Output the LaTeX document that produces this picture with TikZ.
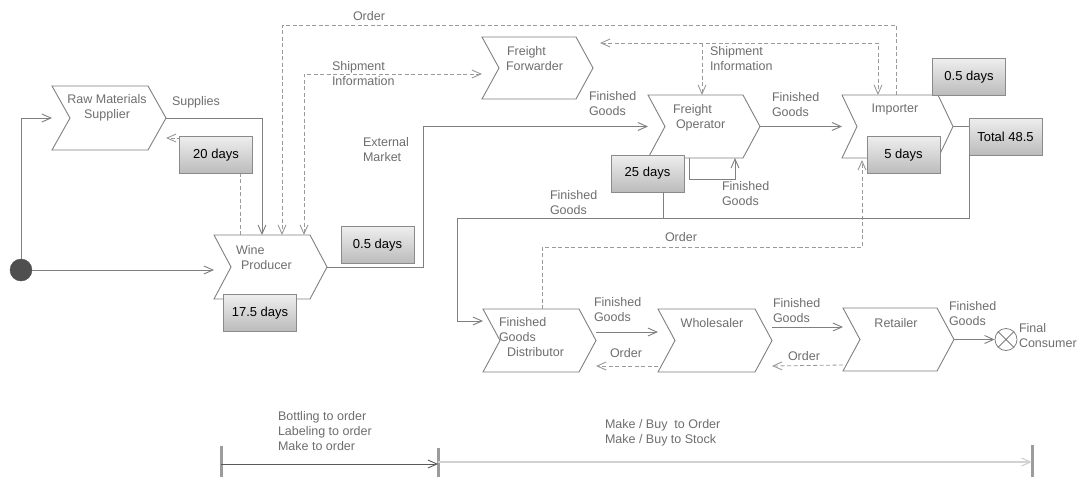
\documentclass[tikz,border=0pt]{standalone}
\usepackage{fontspec}
\setmainfont{Liberation Sans}
\usetikzlibrary{arrows.meta,fit,calc}

\definecolor{edgegray}{HTML}{808080}
\definecolor{dashgray}{HTML}{9A9A9A}
\definecolor{txtgray}{HTML}{6E6E6E}
\definecolor{boxedge}{HTML}{8A8A8A}
\definecolor{boxtop}{HTML}{EEEEEE}
\definecolor{boxbot}{HTML}{BBBBBB}
\definecolor{startfill}{HTML}{4F4F4F}
\definecolor{tickgray}{HTML}{9C9C9C}
\definecolor{darkflow}{HTML}{5A5A5A}
\definecolor{lightflow}{HTML}{D2D2D2}

% chevron-shaped process step: [depth]{name}{left}{top}{right}{bottom}
\newcommand\chev[6][17]{%
  \node[chevbox, fit={(#3,#4) (#5,#6)}] (#2) {};
  \draw[chevline] (#2.north west) -- ([xshift=-#1pt]#2.north east) -- (#2.east)
    -- ([xshift=-#1pt]#2.south east) -- (#2.south west) -- ([xshift=#1pt]#2.west) -- cycle;}

\begin{document}
\begin{tikzpicture}[x=1pt,y=-1pt,
  every node/.style={font=\fontsize{12.5}{15}\selectfont},
  chevbox/.style={inner sep=0pt, outer sep=0pt},
  chevline/.style={draw=edgegray, line width=0.9pt, fill=white, line join=miter},
  nametext/.style={text=txtgray, inner sep=0pt, outer sep=0pt},
  lbl/.style={text=txtgray, align=left, anchor=west, inner sep=0pt, outer sep=0pt},
  tipv/.tip={Straight Barb[length=9pt,width=8pt,line width=0.9pt]},
  flow/.style={draw=edgegray, line width=0.9pt, -tipv},
  plain/.style={draw=edgegray, line width=0.9pt},
  info/.style={draw=dashgray, line width=0.8pt, dash pattern=on 4pt off 2.5pt, -tipv},
  infoboth/.style={draw=dashgray, line width=0.8pt, dash pattern=on 4pt off 2.5pt, tipv-tipv},
  daybox/.style={draw=boxedge, line width=0.8pt, top color=boxtop, bottom color=boxbot,
    minimum width=73pt, minimum height=37pt, inner sep=0pt, outer sep=0pt,
    font=\fontsize{13}{15}\selectfont, text=black},
  tick/.style={draw=tickgray, line width=3pt},
]
\useasboundingbox (0,0) rectangle (1083,477);
\fill[white] (0,0) rectangle (1083,477);

% ---------- connector anchor points ----------
\coordinate (wineSup)   at (262,235);
\coordinate (wineOrd)   at (240,235);
\coordinate (rawOrd)    at (166,138);
\coordinate (impOrd)    at (896,95);
\coordinate (orderTop)  at (282,25);
\coordinate (wineOrd2)  at (282,235);
\coordinate (wineShip)  at (304,235);
\coordinate (ffwdShip)  at (482,74);
\coordinate (extBend)   at (423,267);
\coordinate (ffwdRet)   at (600,43);
\coordinate (impShip)   at (878,95);
\coordinate (shipSplit) at (702,43);
\coordinate (fopShip)   at (702,95);
\coordinate (loopA)     at (689,158);
\coordinate (loopB)     at (735,158);
\coordinate (fgJoin)    at (663,218);
\coordinate (fgCorner)  at (457,218);
\coordinate (fgdIn)     at (483,321);
\coordinate (fgdOrd)    at (542,309);
\coordinate (impOrdIn)  at (862,160);

% ---------- process steps ----------
\chev[18]{rawsup}{52}{86}{166}{150}
\chev{wine}{214}{235}{327}{299}
\chev{ffwd}{482}{37}{593}{99}
\chev{fop}{648}{95}{760}{158}
\chev[15]{imp}{842}{95}{953}{158}
\chev{fgd}{483}{309}{596}{372}
\chev{whole}{658}{309}{772}{372}
\chev{retail}{843}{308}{954}{371}

\node[nametext, align=center] (rawsup-t) at (107,108) {Raw Materials\\Supplier};
\node[nametext, align=left, anchor=west] (wine-t) at (236,257.5) {Wine\\\hspace*{5pt}Producer};
\node[nametext, align=left, anchor=west] (ffwd-t) at (506,58.5) {\hspace*{1pt}Freight\\Forwarder};
\node[nametext, align=left, anchor=west] (fop-t) at (673,117.5) {Freight\\\hspace*{3pt}Operator};
\node[nametext] (imp-t) at (895,109) {Importer};
\node[nametext, align=left, anchor=west] (fgd-t) at (499,337) {Finished\\Goods\\\hspace*{8pt}Distributor};
\node[nametext] (whole-t) at (712,323) {Wholesaler};
\node[nametext] (retail-t) at (896,323) {Retailer};

% ---------- start and end points ----------
\node[circle, fill=startfill, draw=startfill, minimum size=22pt, inner sep=0pt] (start) at (21,270) {};
\node[circle, draw=edgegray, line width=0.8pt, minimum size=22pt, inner sep=0pt] (cons) at (1006,339.5) {};
\draw[edgegray, line width=0.8pt] (cons.north east) -- (cons.south west)
  (cons.north west) -- (cons.south east);

% ---------- information flows (dashed) ----------
\draw[info] (wineOrd) |- (rawOrd);
\draw[info] (impOrd) |- (orderTop) -- (wineOrd2);
\draw[infoboth] (wineShip) |- (ffwdShip);
\draw[infoboth] (ffwdRet) -| (impShip);
\draw[info] (shipSplit) -- (fopShip);
\draw[info] (fgdOrd) -- ++(0,-62) -| (impOrdIn);
\draw[info] ([yshift=-25.5pt]whole.west) -- ([yshift=-25.5pt]fgd.east);
\draw[info] ([yshift=-25.5pt]retail.west) -- ([yshift=-25.5pt]whole.east);

% ---------- material flows ----------
\draw[flow] (start) |- (rawsup.west);
\draw[flow] (start) -- (start -| wine.west);
\draw[flow] (rawsup.east) -| (wineSup);
\draw[flow] (wine.east) -- (extBend) |- (fop.west);
\draw[flow] (fop.east) -- (imp.west);
\draw[flow] (loopA) -- ++(0,21) -| (loopB);
\draw[flow] ([yshift=8.5pt]fgd.east) -- ([yshift=8.5pt]whole.west);
\draw[flow] ([yshift=13.5pt]whole.east) -- ([yshift=13.5pt]whole.east -| retail.west);
\draw[flow] (retail.east) -- (cons.west);

% ---------- lead-time boxes ----------
\node[daybox] (d20)   at (216,155)    {20 days};
\node[daybox] (d175)  at (260,313)    {17.5 days};
\node[daybox] (d05a)  at (377.5,245)  {0.5 days};
\node[daybox] (d25)   at (647.5,173.5){25 days};
\node[daybox] (d05b)  at (969,77)     {0.5 days};
\node[daybox] (d5)    at (903.5,155)  {5 days};
\node[daybox] (total) at (1005.5,136.5){Total 48.5};

\draw[plain] (d25.south -| fgJoin) -- (fgJoin);
\draw[plain] (imp.east) -- (imp.east -| total.west);
\draw[flow] (total.south west) |- (fgCorner) |- (fgdIn);

% ---------- flow labels ----------
\node[lbl] (l-sup)   at (172,102)   {Supplies};
\node[lbl] (l-ord1)  at (353,16)    {Order};
\node[lbl] (l-ship1) at (332,73.5)  {Shipment\\Information};
\node[lbl] (l-ship2) at (710,59)    {Shipment\\Information};
\node[lbl] (l-fg1)   at (589,103.5) {Finished\\Goods};
\node[lbl] (l-ext)   at (363,149.5) {External\\Market};
\node[lbl] (l-fg2)   at (772,104.5) {Finished\\Goods};
\node[lbl] (l-fg3)   at (722,193.5) {Finished\\Goods};
\node[lbl] (l-fg4)   at (550,202.5) {Finished\\Goods};
\node[lbl] (l-ord2)  at (665,237)   {Order};
\node[lbl] (l-fg5)   at (594,309.5) {Finished\\Goods};
\node[lbl] (l-ord3)  at (610,353)   {Order};
\node[lbl] (l-fg6)   at (773,310.5) {Finished\\Goods};
\node[lbl] (l-ord4)  at (788,356)   {Order};
\node[lbl] (l-fg7)   at (949,313.5) {Finished\\Goods};
\node[lbl] (l-cons)  at (1019,335.5){Final\\Consumer};

% ---------- order-strategy timeline ----------
\coordinate (t1) at (221,464);
\coordinate (t2) at (438,464);
\coordinate (t2b) at (438,462);
\coordinate (t3) at (1032,462);
\draw[tick] (221,446) -- (221,477);
\draw[tick] (438,448) -- (438,477);
\draw[tick] (1032,445) -- (1032,477);
\draw[draw=darkflow, line width=0.9pt, -tipv] (t1) -- (t2);
\draw[draw=lightflow, line width=1.2pt, -{Straight Barb[length=9pt,width=8pt,line width=1.2pt]}] (t2b) -- (t3);
\node[lbl] (l-bot1) at (278,431) {Bottling to order\\Labeling to order\\Make to order};
\node[lbl] (l-bot2) at (605,432.5) {Make / Buy\ \ to Order\\Make / Buy to Stock};
\end{tikzpicture}
\end{document}
